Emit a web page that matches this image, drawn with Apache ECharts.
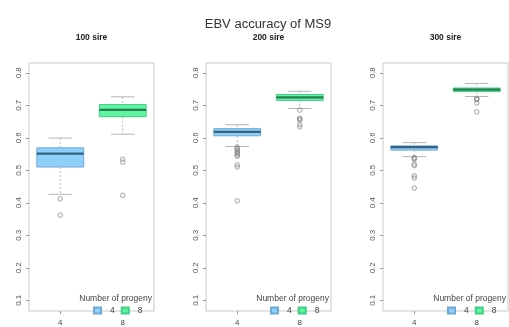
<!DOCTYPE html>
<html>
<head>
<meta charset="utf-8">
<script src="https://cdn.jsdelivr.net/npm/echarts@6/dist/echarts.min.js"></script>
<style>
  html, body { margin: 0; padding: 0; background: #fff; }
  #chart { width: 509px; height: 327px; }
</style>
</head>
<body>
<div id="chart"></div>
<script>
// Progeny-group categories and panel labels
const categories = ['4', '8'];
const panelNames = ['100 sire', '200 sire', '300 sire'];
const yTicks = [0.1, 0.2, 0.3, 0.4, 0.5, 0.6, 0.7, 0.8];

// Box statistics per panel: [lower whisker, Q1, median, Q3, upper whisker]
const boxes4 = [
  [0.426, 0.510, 0.551, 0.569, 0.599],
  [0.573, 0.606, 0.618, 0.628, 0.640],
  [0.542, 0.562, 0.571, 0.575, 0.585]
];
const boxes8 = [
  [0.611, 0.665, 0.686, 0.702, 0.726],
  [0.690, 0.715, 0.724, 0.733, 0.743],
  [0.727, 0.742, 0.748, 0.753, 0.767]
];

// Outlying values per panel
const outliers4 = [
  [0.412, 0.362],
  [0.571, 0.567, 0.563, 0.559, 0.555, 0.551, 0.547, 0.543, 0.517, 0.510, 0.406],
  [0.539, 0.536, 0.534, 0.519, 0.514, 0.483, 0.476, 0.445]
];
const outliers8 = [
  [0.534, 0.525, 0.423],
  [0.685, 0.660, 0.657, 0.654, 0.640, 0.633],
  [0.721, 0.719, 0.717, 0.707, 0.680]
];

const fills = ['#8fd0fa', '#5ef5a3'];
const borders = ['#6fa9d6', '#3fcf83'];
const medians = ['#36607f', '#2a7a52'];

const FONT = 'Liberation Sans, Arial, sans-serif';
const W = 509;
const plotLefts = [29, 206, 383];
const plotW = 125, plotTop = 63, plotH = 255;

const grid = [], xAxis = [], yAxis = [], series = [], legend = [];
const title = [{
  text: 'EBV accuracy of MS9',
  left: 268, top: 18, textAlign: 'center', padding: 0,
  textStyle: { fontFamily: FONT, fontSize: 13, fontWeight: 'normal', color: '#333' }
}];

function boxRender(params, api) {
  const c = api.value(0);
  const lw = api.coord([c, api.value(1)]);
  const q1 = api.coord([c, api.value(2)]);
  const md = api.coord([c, api.value(3)]);
  const q3 = api.coord([c, api.value(4)]);
  const uw = api.coord([c, api.value(5)]);
  const bw = api.size([1, 0])[0] * 0.75;
  const cx = lw[0];
  const sw = bw * 0.5;
  const whisk = { stroke: '#b5b5b5', lineWidth: 1, lineDash: [2, 2] };
  const staple = { stroke: '#b5b5b5', lineWidth: 1 };
  return {
    type: 'group',
    children: [
      { type: 'line', shape: { x1: cx, y1: uw[1], x2: cx, y2: q3[1] }, style: whisk },
      { type: 'line', shape: { x1: cx, y1: q1[1], x2: cx, y2: lw[1] }, style: whisk },
      { type: 'line', shape: { x1: cx - sw / 2, y1: uw[1], x2: cx + sw / 2, y2: uw[1] }, style: staple },
      { type: 'line', shape: { x1: cx - sw / 2, y1: lw[1], x2: cx + sw / 2, y2: lw[1] }, style: staple },
      { type: 'rect', shape: { x: cx - bw / 2, y: q3[1], width: bw, height: q1[1] - q3[1] },
        style: { fill: fills[c], stroke: borders[c], lineWidth: 1 } },
      { type: 'line', shape: { x1: cx - bw / 2, y1: md[1], x2: cx + bw / 2, y2: md[1] },
        style: { stroke: medians[c], lineWidth: 2.2 } }
    ]
  };
}

panelNames.forEach((name, p) => {
  const left = plotLefts[p];
  grid.push({ left: left, top: plotTop, width: plotW, height: plotH,
    show: true, borderColor: '#c9c9c9', borderWidth: 1, backgroundColor: '#fff' });
  xAxis.push({
    type: 'category', gridIndex: p, data: categories,
    axisLine: { show: false },
    axisTick: { show: true, alignWithLabel: true, length: 3, lineStyle: { color: '#999' } },
    axisLabel: { fontFamily: FONT, fontSize: 8, color: '#444', margin: 8 },
    splitLine: { show: false }
  });
  yAxis.push({
    type: 'value', gridIndex: p, min: 0.067, max: 0.83,
    axisLine: { show: false },
    axisTick: { show: true, length: 3, customValues: yTicks, lineStyle: { color: '#999' } },
    axisLabel: { fontFamily: FONT, fontSize: 8, color: '#555', rotate: 90, margin: 6,
      customValues: yTicks, formatter: v => v.toFixed(1) },
    splitLine: { show: false }
  });

  title.push({
    text: name, left: left + plotW / 2, top: 33, textAlign: 'center', padding: 0,
    textStyle: { fontFamily: FONT, fontSize: 8.5, fontWeight: 'bold', color: '#222' }
  });
  title.push({
    text: 'Number of progeny', right: W - (left + plotW) + 2, top: 294, padding: 0,
    textStyle: { fontFamily: FONT, fontSize: 8.5, fontWeight: 'normal', color: '#444' }
  });

  series.push({
    type: 'custom', xAxisIndex: p, yAxisIndex: p,
    renderItem: boxRender,
    encode: { x: 0, y: [1, 2, 3, 4, 5] },
    data: [[0].concat(boxes4[p]), [1].concat(boxes8[p])],
    z: 2
  });
  const pts = outliers4[p].map(v => [0, v]).concat(outliers8[p].map(v => [1, v]));
  series.push({
    type: 'scatter', xAxisIndex: p, yAxisIndex: p,
    data: pts, symbol: 'circle', symbolSize: 4.5,
    itemStyle: { color: 'rgba(255,255,255,0)', borderColor: '#888', borderWidth: 0.9, opacity: 0.85 },
    z: 3
  });
  // Key entries for the progeny groups
  categories.forEach((cat, i) => {
    series.push({
      type: 'bar', name: cat, xAxisIndex: p, yAxisIndex: p, data: [],
      itemStyle: { color: fills[i], borderColor: borders[i], borderWidth: 1 }
    });
  });
  legend.push({
    data: categories, left: left + plotW - 61, top: 306, padding: 0,
    icon: 'rect', itemWidth: 7, itemHeight: 6, itemGap: 6,
    selectedMode: false,
    textStyle: { fontFamily: FONT, fontSize: 8.5, color: '#444', padding: [0, 0, 0, 4] }
  });
});

const chart = echarts.init(document.getElementById('chart'), null, { renderer: 'canvas' });
chart.setOption({
  animation: false,
  backgroundColor: '#fff',
  title: title,
  legend: legend,
  grid: grid,
  xAxis: xAxis,
  yAxis: yAxis,
  series: series
});
</script>
</body>
</html>
